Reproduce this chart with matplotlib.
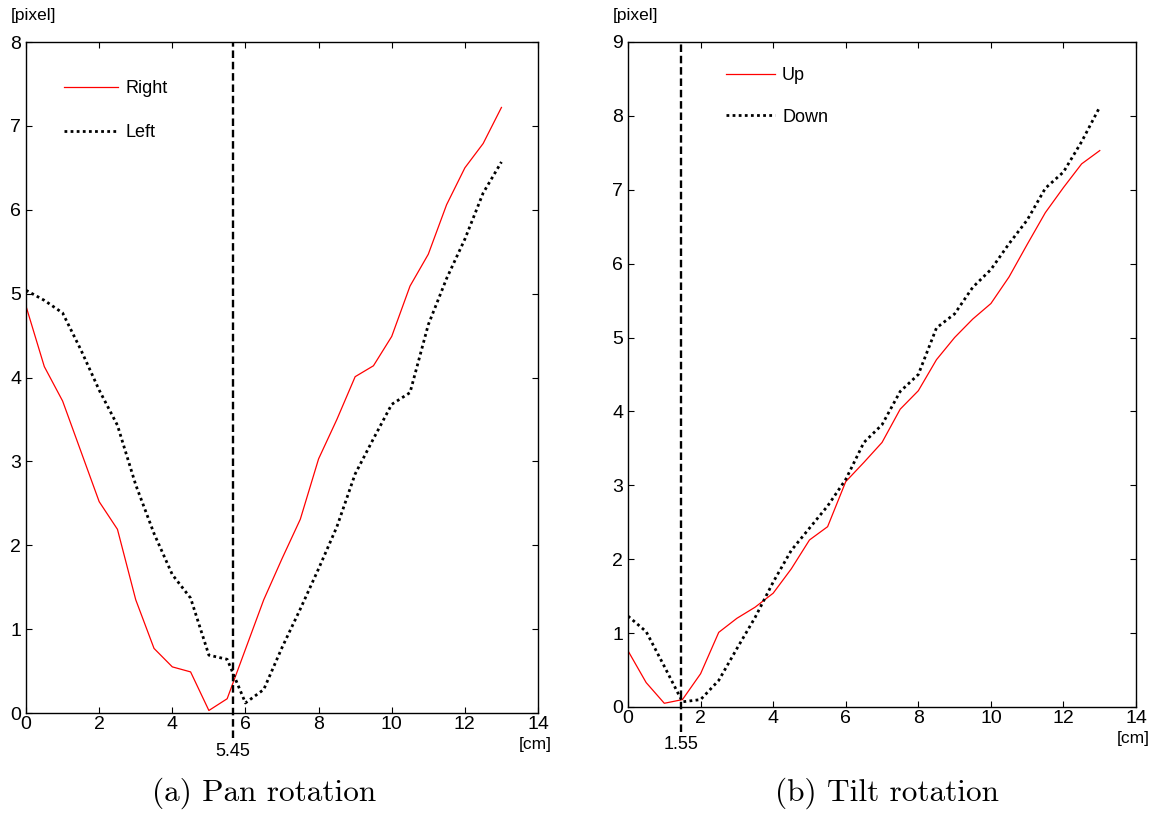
import numpy as np
import matplotlib
matplotlib.use("Agg")
import matplotlib.pyplot as plt

plt.rcParams["font.family"] = ["Liberation Sans", "DejaVu Sans"]

# 数据
pos_cm = [0, 0.5, 1, 1.5, 2, 2.5, 3, 3.5, 4, 4.5, 5, 5.5, 6, 6.5,
          7, 7.5, 8, 8.5, 9, 9.5, 10, 10.5, 11, 11.5, 12, 12.5, 13]

pan_right = [4.85, 4.13, 3.72, 3.12, 2.52, 2.19, 1.35, 0.77, 0.55, 0.49, 0.03, 0.17, 0.76, 1.35,
             1.84, 2.31, 3.03, 3.50, 4.01, 4.14, 4.49, 5.09, 5.47, 6.06, 6.50, 6.79, 7.22]
pan_left = [5.04, 4.92, 4.77, 4.33, 3.85, 3.43, 2.72, 2.14, 1.65, 1.37, 0.69, 0.64, 0.12, 0.28,
            0.78, 1.24, 1.72, 2.22, 2.85, 3.27, 3.68, 3.82, 4.63, 5.18, 5.65, 6.20, 6.57]

tilt_up = [0.76, 0.33, 0.05, 0.10, 0.45, 1.01, 1.20, 1.35, 1.54, 1.87, 2.26, 2.44, 3.05, 3.31,
           3.58, 4.03, 4.28, 4.70, 5.00, 5.25, 5.46, 5.82, 6.26, 6.69, 7.03, 7.35, 7.53]
tilt_down = [1.23, 1.02, 0.55, 0.07, 0.10, 0.36, 0.79, 1.21, 1.69, 2.12, 2.42, 2.72, 3.08, 3.58,
             3.82, 4.27, 4.50, 5.13, 5.32, 5.68, 5.92, 6.27, 6.59, 7.02, 7.24, 7.65, 8.12]

x_ticks = [0, 2, 4, 6, 8, 10, 12, 14]
pan_yticks = [0, 1, 2, 3, 4, 5, 6, 7, 8]
tilt_yticks = [0, 1, 2, 3, 4, 5, 6, 7, 8, 9]

# 竖线：画的位置与标注文字
pan_vline, pan_vlabel = 5.65, "5.45"
tilt_vline, tilt_vlabel = 1.45, "1.55"


def draw_panel(ax, ylim, yticks, s1, s2, labels, vline, vlabel, leg_pos, handlelen, spacing):
    ax.plot(pos_cm, s1, color="red", lw=0.9, label=labels[0])
    ax.plot(pos_cm, s2, color="black", lw=2.0, linestyle=(0, (1, 1.2)), label=labels[1])
    ax.axvline(vline, ymin=-0.038, ymax=1, color="black", lw=1.7,
               linestyle=(0, (3.2, 1.6)), clip_on=False)
    ax.text(vline, -0.057, vlabel, transform=ax.get_xaxis_transform(),
            ha="center", va="center", fontsize=13)

    ax.set_xlim(0, 14)
    ax.set_ylim(*ylim)
    ax.set_xticks(x_ticks)
    ax.set_yticks(yticks)
    ax.tick_params(direction="in", length=4, width=0.8, top=True, right=True, labelsize=14)
    ax.tick_params(axis="x", pad=2.5)
    ax.tick_params(axis="y", pad=3.5)
    for sp in ax.spines.values():
        sp.set_linewidth(1.0)

    ax.text(-0.03, 1.04, "[pixel]", transform=ax.transAxes, ha="left", va="center", fontsize=12.5)
    ax.text(0.995, -0.047, "[cm]", transform=ax.transAxes, ha="center", va="center", fontsize=12.5)

    ax.legend(loc="upper left", bbox_to_anchor=leg_pos, frameon=False, fontsize=13,
              handlelength=handlelen, handletextpad=0.4, labelspacing=spacing,
              borderpad=0, borderaxespad=0)


fig = plt.figure(figsize=(11.57, 8.13), dpi=100)
ax1 = fig.add_axes([0.0225, 0.1230, 0.4425, 0.8253])
ax2 = fig.add_axes([0.5428, 0.1304, 0.4391, 0.8180])

draw_panel(ax1, (0, 8), pan_yticks, pan_right, pan_left, ["Right", "Left"],
           pan_vline, pan_vlabel, (0.074, 0.943), 3.0, 1.5)
draw_panel(ax2, (0, 9), tilt_yticks, tilt_up, tilt_down, ["Up", "Down"],
           tilt_vline, tilt_vlabel, (0.193, 0.962), 2.7, 1.35)

fig.text(264 / 1157, 1 - 793 / 813, "(a) Pan rotation", family="cmr10",
         fontsize=22.5, ha="center", va="center")
fig.text(887 / 1157, 1 - 793 / 813, "(b) Tilt rotation", family="cmr10",
         fontsize=22.5, ha="center", va="center")

fig.savefig("out.png", dpi=100)
